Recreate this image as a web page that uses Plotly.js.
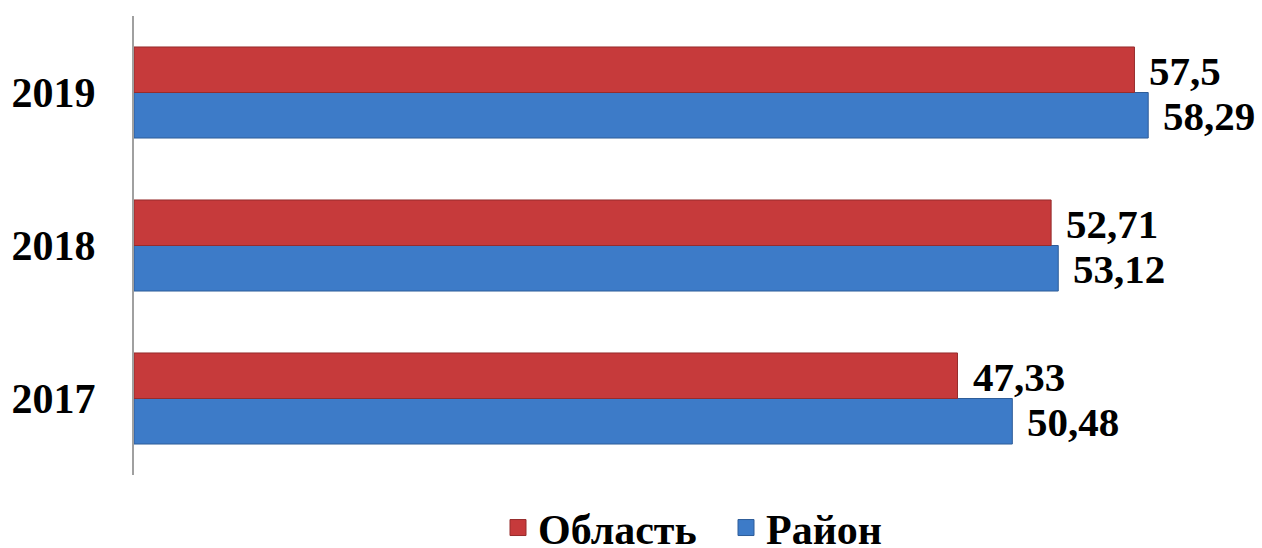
<!DOCTYPE html>
<html>
<head>
<meta charset="utf-8">
<script src="https://cdn.plot.ly/plotly-3.0.1.min.js"></script>
<style>html,body{margin:0;padding:0;background:#fff;}#chart{width:1262px;height:548px;}</style>
</head>
<body>
<div id="chart"></div>
<script>
const years = ['2017', '2018', '2019'];
const oblast = [47.33, 52.71, 57.5];
const rayon = [50.48, 53.12, 58.29];
const seriesNames = ['Область', 'Район'];

const fmt = v => String(v).replace('.', ',');
const fam = 'Liberation Serif, Times New Roman, serif';
const labelFont = {family: fam, size: 41, color: '#000', weight: 'bold'};
const tickFont = {family: fam, size: 42, color: '#000', weight: 'bold'};
const redC = '#C63A3B', blueC = '#3D7BC8';

const traces = [
  {type: 'bar', orientation: 'h', name: seriesNames[1], y: years, x: rayon, showlegend: false,
   marker: {color: blueC, line: {color: '#2E5D99', width: 1}}, hoverinfo: 'none'},
  {type: 'bar', orientation: 'h', name: seriesNames[0], y: years, x: oblast, showlegend: false,
   marker: {color: redC, line: {color: '#962C2C', width: 1}}, hoverinfo: 'none'},
  {type: 'scatter', mode: 'markers', name: seriesNames[0], x: [null], y: [null], legendrank: 1,
   marker: {symbol: 'square', size: 20, color: redC, line: {color: '#962C2C', width: 1}}},
  {type: 'scatter', mode: 'markers', name: seriesNames[1], x: [null], y: [null], legendrank: 2,
   marker: {symbol: 'square', size: 20, color: blueC, line: {color: '#2E5D99', width: 1}}}
];

const annotations = [];
years.forEach((yr, i) => {
  annotations.push({x: oblast[i], y: i, yref: 'y', text: fmt(oblast[i]), showarrow: false, xanchor: 'left', yanchor: 'middle', xshift: 13, yshift: 22, font: labelFont});
  annotations.push({x: rayon[i], y: i, yref: 'y', text: fmt(rayon[i]), showarrow: false, xanchor: 'left', yanchor: 'middle', xshift: 13, yshift: -23, font: labelFont});
});

const layout = {
  width: 1262, height: 548,
  margin: {l: 134, r: 0, t: 16, b: 73},
  paper_bgcolor: '#fff', plot_bgcolor: '#fff',
  barmode: 'group', bargap: 0.405, bargroupgap: 0,
  xaxis: {range: [0, 64.83], autorange: false, visible: false, fixedrange: true},
  yaxis: {type: 'category', range: [-0.5, 2.5], autorange: false, showline: true, linecolor: '#a0a0a0', linewidth: 2,
          showgrid: false, zeroline: false, ticks: '', ticklabelstandoff: 28,
          tickfont: tickFont, fixedrange: true},
  showlegend: true,
  legend: {orientation: 'h', xref: 'paper', x: 0.3227, xanchor: 'left', yref: 'container', y: 0.037, yanchor: 'middle',
           font: tickFont, traceorder: 'normal', itemsizing: 'trace', entrywidth: 183},
  annotations: annotations
};

Plotly.newPlot('chart', traces, layout, {displayModeBar: false, staticPlot: true});
</script>
</body>
</html>
